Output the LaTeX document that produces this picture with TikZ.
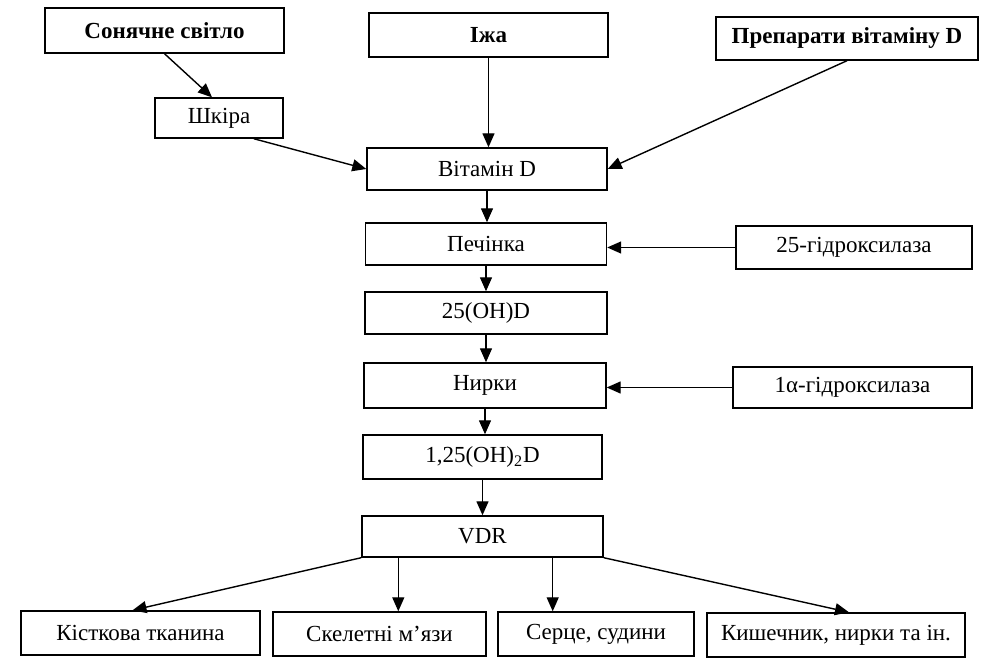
\documentclass[tikz,border=0pt]{standalone}
\usepackage{fontspec}
\setmainfont{Liberation Serif}
\usetikzlibrary{arrows.meta, positioning, calc}

\begin{document}
\begin{tikzpicture}[x=0.5pt, y=-0.5pt,
  box/.style={draw, line width=0.7pt, minimum height=21pt, inner sep=2pt, font=\fontsize{11.5}{13}\selectfont},
  boldbox/.style={box, font=\fontsize{11.5}{13}\selectfont\bfseries},
  arr/.style={-{Triangle[length=7pt, width=6pt]}, line width=0.7pt}]
\useasboundingbox (0,0) rectangle (982,662);
% Sources
\node[boldbox, minimum width=119.5pt, minimum height=22.5pt] (sun) at (164.5,30.5) {Сонячне світло};
\node[boldbox, minimum width=119.5pt, minimum height=22pt] (food) at (488.5,35) {Іжа};
\node[boldbox, minimum width=131pt, minimum height=21.5pt] (prep) at (847,38.5) {Препарати вітаміну D};
\node[box, minimum width=64pt, minimum height=20pt] (skin) at (219,118) {Шкіра};
% Main chain
\node[box, minimum width=120pt] (vitd) at (487,169) {Вітамін D};
\node[box, minimum width=120.5pt] (liver) at (486,244) {Печінка};
\node[box, minimum width=121pt] (ohd) at (486,313) {25(OH)D};
\node[box, minimum width=121pt, minimum height=22.5pt] (kidney) at (485,385.5) {Нирки};
\node[box, minimum width=119.5pt, minimum height=22pt] (dihyd) at (482.5,457) {1,25(OH)\textsubscript{2}D};
\node[box, minimum width=120.5pt, minimum height=20.5pt] (vdr) at (482.5,536.5) {VDR};
% Enzymes
\node[box, minimum width=118pt, minimum height=21.5pt] (hyd25) at (854,247.5) {25-гідроксилаза};
\node[box, minimum width=119.5pt, minimum height=20.5pt] (hyd1a) at (852.5,387.5) {1α-гідроксилаза};
% Targets
\node[box, minimum width=119.5pt, minimum height=22pt] (bone) at (140.5,633) {Кісткова тканина};
\node[box, minimum width=106.5pt, minimum height=22pt] (muscle) at (379.5,634) {Скелетні м’язи};
\node[box, minimum width=98pt, minimum height=22pt] (heart) at (596,634) {Серце, судини};
\node[box, minimum width=129pt, minimum height=22pt] (gut) at (836,635) {Кишечник, нирки та ін.};
% Arrows
\draw[arr] (sun.south) -- ($(skin.north)+(-7,0)$);
\draw[arr] ($(skin.south east)+(-30,0)$) -- (vitd.west);
\draw[arr] (food.south) -- (food.south |- vitd.north);
\draw[arr] (prep.south) -- (vitd.east);
\foreach \a/\b in {vitd/liver, liver/ohd, ohd/kidney, kidney/dihyd, dihyd/vdr}
  \draw[arr] (\a.south) -- (\a.south |- \b.north);
\draw[arr] (hyd25.west) -- (hyd25.west -| liver.east);
\draw[arr] (hyd1a.west) -- (hyd1a.west -| kidney.east);
\coordinate (m1) at ($(vdr.south west)+(37,0)$);
\coordinate (h1) at ($(vdr.south east)+(-51,0)$);
\draw[arr] (vdr.south west) -- ($(bone.north)+(-8,0)$);
\draw[arr] (m1) -- (m1 |- muscle.north);
\draw[arr] (h1) -- (h1 |- heart.north);
\draw[arr] (vdr.south east) -- ($(gut.north)+(13,0)$);
\end{tikzpicture}
\end{document}
